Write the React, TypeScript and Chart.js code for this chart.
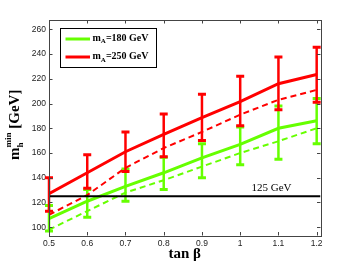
import React, { useEffect, useRef } from "react";
import { Chart, registerables } from "chart.js";

Chart.register(...registerables);

// ---- data ----
const tanBeta = [0.5, 0.6, 0.7, 0.8, 0.9, 1.0, 1.1, 1.2];
const mA180 = [107, 121, 133, 144, 156, 167, 180, 186];
const mA180Dashed = [98, 113, 128, 138, 149, 160, 169.5, 180];
const mA180Low = [97, 108, 121, 130.5, 140, 150.5, 155, 167.5];
const mA180High = [117.5, 130.5, 147, 156.5, 167.5, 181, 198, 204];
const mA250 = [127, 144, 161, 175, 188.5, 201.5, 216, 223.5];
const mA250Dashed = [110, 126, 148, 164, 177, 191, 203, 211];
const mA250Low = [113, 131.5, 145, 157, 170, 182, 195, 201];
const mA250High = [140, 158.5, 177, 191.5, 207.5, 222, 237.5, 245.5];
const higgsMass = 125;
const xTicks = [0.5, 0.6, 0.7, 0.8, 0.9, 1.0, 1.1, 1.2];
const yTicks = [100, 120, 140, 160, 180, 200, 220, 240, 260];
const xMin = 0.5;
const xMax = 1.21;
const yMin = 93.3;
const yMax = 267.5;
const legendLabels = [
  { main: "m", sub: "A", rest: "=180 GeV" },
  { main: "m", sub: "A", rest: "=250 GeV" },
];
const refLabel = "125 GeV";

const GREEN = "#66ff00";
const RED = "#ff0000";
const SERIF = "'Liberation Serif', 'Times New Roman', serif";
const SANS = "Liberation Sans, Arial, sans-serif";

const pts = (ys: number[]) => tanBeta.map((x, i) => ({ x, y: ys[i] }));

const decorPlugin = {
  id: "decor",
  afterDatasetDraw(chart: any, args: any) {
    const ds: any = chart.data.datasets[args.index];
    if (!ds.errLow) return;
    const ctx = chart.ctx;
    const xs = chart.scales.x;
    const ys = chart.scales.y;
    ctx.save();
    ctx.strokeStyle = ds.borderColor;
    tanBeta.forEach((t: number, i: number) => {
      const px = xs.getPixelForValue(t);
      const lo = ys.getPixelForValue(ds.errLow[i]);
      const hi = ys.getPixelForValue(ds.errHigh[i]);
      ctx.lineWidth = 2.5;
      ctx.beginPath();
      ctx.moveTo(px, lo);
      ctx.lineTo(px, hi);
      ctx.stroke();
      ctx.lineWidth = 3;
      ctx.beginPath();
      ctx.moveTo(px - 4, lo);
      ctx.lineTo(px + 4, lo);
      ctx.moveTo(px - 4, hi);
      ctx.lineTo(px + 4, hi);
      ctx.stroke();
    });
    ctx.restore();
  },
  afterDraw(chart: any) {
    const ctx = chart.ctx;
    const { left, right, top, bottom } = chart.chartArea;
    const xs = chart.scales.x;
    const ys = chart.scales.y;
    ctx.save();
    // frame
    ctx.strokeStyle = "#444";
    ctx.lineWidth = 1;
    ctx.strokeRect(Math.round(left) + 0.5, Math.round(top) + 0.5, Math.round(right - left), Math.round(bottom - top));
    // inward ticks
    ctx.beginPath();
    xTicks.forEach((t) => {
      const px = Math.round(xs.getPixelForValue(t)) + 0.5;
      ctx.moveTo(px, bottom);
      ctx.lineTo(px, bottom - 3.5);
      ctx.moveTo(px, top);
      ctx.lineTo(px, top + 3.5);
    });
    yTicks.forEach((t) => {
      const py = Math.round(ys.getPixelForValue(t)) + 0.5;
      ctx.moveTo(left, py);
      ctx.lineTo(left + 3.5, py);
      ctx.moveTo(right, py);
      ctx.lineTo(right - 3.5, py);
    });
    ctx.stroke();

    // legend box
    const lx = 60.5, ly = 28.5, lw = 96, lh = 39;
    ctx.fillStyle = "#fff";
    ctx.fillRect(lx, ly, lw, lh);
    ctx.strokeStyle = "#000";
    ctx.lineWidth = 1;
    ctx.strokeRect(lx, ly, lw, lh);
    const rows = [
      { color: GREEN, lineY: 39, base: 40.5, lab: legendLabels[0] },
      { color: RED, lineY: 57, base: 59, lab: legendLabels[1] },
    ];
    rows.forEach((r) => {
      ctx.strokeStyle = r.color;
      ctx.lineWidth = 3;
      ctx.beginPath();
      ctx.moveTo(65.5, r.lineY);
      ctx.lineTo(90, r.lineY);
      ctx.stroke();
      ctx.fillStyle = "#000";
      ctx.textBaseline = "alphabetic";
      ctx.textAlign = "left";
      let x = 92.5;
      ctx.font = `bold 10px ${SERIF}`;
      ctx.fillText(r.lab.main, x, r.base);
      x += ctx.measureText(r.lab.main).width;
      ctx.font = `bold 7px ${SERIF}`;
      ctx.fillText(r.lab.sub, x, r.base + 2.5);
      x += ctx.measureText(r.lab.sub).width;
      ctx.font = `bold 10px ${SERIF}`;
      ctx.fillText(r.lab.rest, x, r.base);
    });

    // 125 GeV label
    ctx.fillStyle = "#000";
    ctx.font = `11px ${SERIF}`;
    ctx.textAlign = "left";
    ctx.fillText(refLabel, 251.5, ys.getPixelForValue(higgsMass) - 5);

    // x title
    ctx.font = `bold 15px ${SERIF}`;
    ctx.textAlign = "center";
    ctx.fillText("tan \u03B2", (left + right) / 2, 258);

    // y title (rotated)
    ctx.translate(19, 160);
    ctx.rotate(-Math.PI / 2);
    ctx.textAlign = "left";
    let x = 0;
    ctx.font = `bold 15px ${SERIF}`;
    ctx.fillText("m", x, 0);
    x += ctx.measureText("m").width;
    ctx.font = `bold 9px ${SERIF}`;
    ctx.fillText("h", x, 3.5);
    const hW = ctx.measureText("h").width;
    ctx.fillText("min", x, -8);
    const minW = ctx.measureText("min").width;
    x += Math.max(hW, minW);
    ctx.font = `bold 15px ${SERIF}`;
    ctx.fillText(" [GeV]", x, 0);
    ctx.restore();
  },
};

export default function App() {
  const ref = useRef<HTMLCanvasElement | null>(null);
  useEffect(() => {
    if (!ref.current) return;
    const chart = new Chart(ref.current, {
      type: "line",
      data: {
        datasets: [
          {
            label: "125",
            data: [
              { x: xMin, y: higgsMass },
              { x: xMax, y: higgsMass },
            ],
            borderColor: "#000",
            borderWidth: 2,
            pointRadius: 0,
            order: 0,
          },
          {
            label: "mA=250 GeV",
            data: pts(mA250),
            borderColor: RED,
            borderWidth: 3,
            pointRadius: 0,
            order: 1,
            errLow: mA250Low,
            errHigh: mA250High,
          } as any,
          {
            label: "mA=250 dashed",
            data: pts(mA250Dashed),
            borderColor: RED,
            borderWidth: 2,
            borderDash: [6, 4],
            pointRadius: 0,
            order: 2,
          },
          {
            label: "mA=180 GeV",
            data: pts(mA180),
            borderColor: GREEN,
            borderWidth: 3,
            pointRadius: 0,
            order: 3,
            errLow: mA180Low,
            errHigh: mA180High,
          } as any,
          {
            label: "mA=180 dashed",
            data: pts(mA180Dashed),
            borderColor: GREEN,
            borderWidth: 2,
            borderDash: [6, 4],
            pointRadius: 0,
            order: 4,
          },
        ],
      },
      options: {
        animation: false,
        responsive: false,
        devicePixelRatio: 1,
        layout: { padding: { left: 0, top: 20, right: 33.5, bottom: 0 } },
        plugins: { legend: { display: false }, tooltip: { enabled: false } },
        scales: {
          x: {
            type: "linear",
            min: xMin,
            max: xMax,
            grid: { display: false, drawTicks: false },
            border: { display: false },
            afterBuildTicks: (s: any) => {
              s.ticks = xTicks.map((v) => ({ value: v }));
            },
            afterFit: (s: any) => {
              s.height = 30.5;
            },
            ticks: {
              padding: 3,
              maxRotation: 0,
              autoSkip: false,
              color: "#222",
              font: { family: SANS, size: 8.5 },
              callback: (v: any) => String(Math.round(Number(v) * 10) / 10),
            },
          },
          y: {
            type: "linear",
            min: yMin,
            max: yMax,
            grid: { display: false, drawTicks: false },
            border: { display: false },
            afterBuildTicks: (s: any) => {
              s.ticks = yTicks.map((v) => ({ value: v }));
            },
            afterFit: (s: any) => {
              s.width = 49;
            },
            ticks: {
              padding: 3,
              autoSkip: false,
              color: "#222",
              font: { family: SANS, size: 8.5 },
              callback: (v: any) => String(v),
            },
          },
        },
      },
      plugins: [decorPlugin],
    });
    return () => chart.destroy();
  }, []);
  return (
    <div style={{ position: "absolute", left: 0, top: 0, width: 354, height: 266, background: "#fff" }}>
      <canvas ref={ref} width={354} height={266} style={{ width: 354, height: 266, display: "block" }} />
    </div>
  );
}
